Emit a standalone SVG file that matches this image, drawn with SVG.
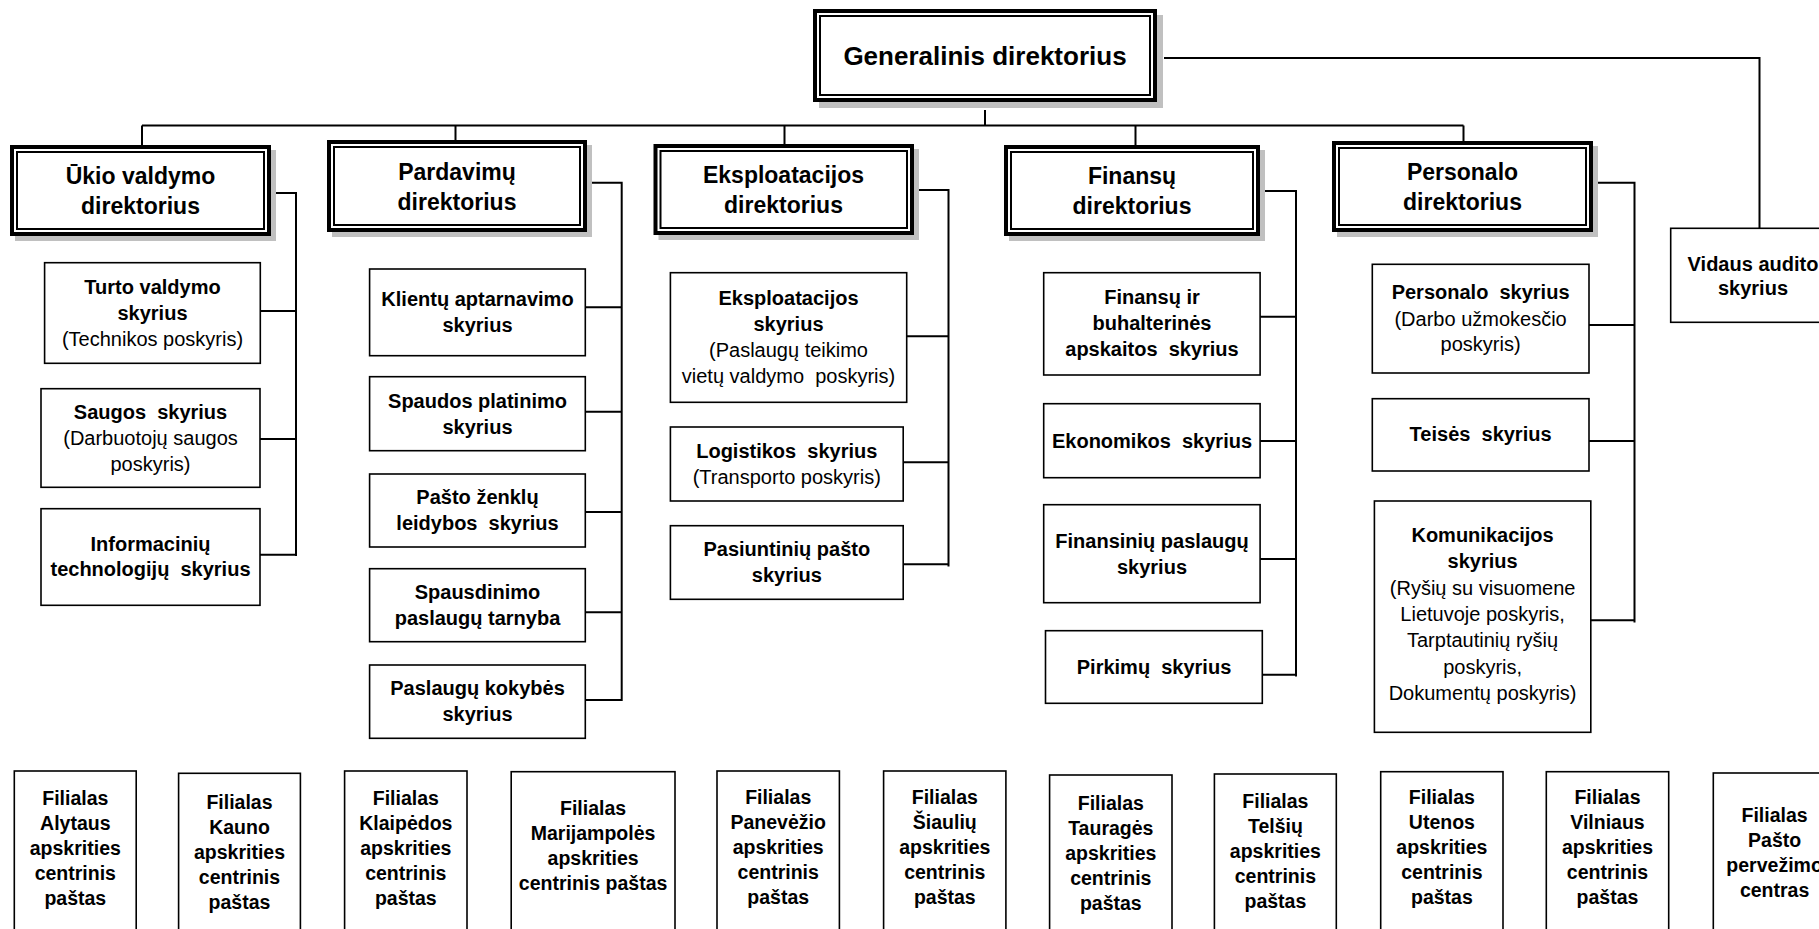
<svg xmlns="http://www.w3.org/2000/svg" width="1819" height="929" viewBox="0 0 1819 929">
<defs>
<style>
text{font-family:"Liberation Sans",Arial,sans-serif;fill:#000;text-anchor:middle}
.g{font-size:26px;font-weight:bold}
.d{font-size:23px;font-weight:bold}
.m{font-size:20px;font-weight:bold}
.r{font-size:20px;font-weight:normal}
.b{font-size:19.5px;font-weight:bold}
.sh{fill:#c0c0c0}
.o{fill:#fff;stroke:#000;stroke-width:4}
.i{fill:none;stroke:#000;stroke-width:2}
.bx{fill:#fff;stroke:#000;stroke-width:1.6}
.c{fill:none;stroke:#000;stroke-width:2}
</style>
</defs>
<rect width="1819" height="929" fill="#fff"/>

<g id="connectors">
<path class="c" d="M142,125.5 H1463.5"/>
<path class="c" d="M985,110 V126"/>
<path class="c" d="M142,125.5 V145 M455.5,125.5 V140 M784.5,125.5 V144 M1135.5,125.5 V145 M1463.5,125.5 V141"/>
<path class="c" d="M1164,58 H1759.5 V228.5"/>
<path class="c" d="M276,193 H296 V556 M260,311 H296 M260,439 H296 M260,554.7 H296"/>
<path class="c" d="M592,182.7 H621.7 V701 M585.3,307.3 H621.7 M585.3,411.7 H621.7 M585.3,512 H621.7 M585.3,612.3 H621.7 M585.3,700 H621.7"/>
<path class="c" d="M914,190 H948.5 V566.5 M906.7,336.3 H948.5 M903.2,462.3 H948.5 M903.2,564.3 H948.5"/>
<path class="c" d="M1262,191 H1296 V676.5 M1260.1,316.7 H1296 M1260.1,441 H1296 M1260.1,559 H1296 M1262.3,674.7 H1296"/>
<path class="c" d="M1595,182.7 H1634.5 V622.5 M1589,325 H1634.5 M1589,441 H1634.5 M1590.8,620.3 H1634.5"/>
</g>

<g id="generalinis">
<rect class="sh" x="819" y="15" width="344" height="93"/>
<rect class="o" x="815" y="11" width="340" height="89"/>
<rect class="i" x="820" y="16" width="330" height="79"/>
<text class="g" x="985" y="65">Generalinis direktorius</text>
</g>

<g id="ukio">
<rect class="sh" x="15" y="150" width="261" height="91"/>
<rect class="o" x="12" y="147" width="257" height="87"/>
<rect class="i" x="17" y="152" width="247" height="77"/>
<text class="d"><tspan x="140.5" y="183.5">Ūkio valdymo</tspan><tspan x="140.5" y="213.5">direktorius</tspan></text>
</g>

<g id="pardavimu">
<rect class="sh" x="332" y="145" width="260" height="92"/>
<rect class="o" x="329" y="142" width="256" height="88"/>
<rect class="i" x="334" y="147" width="246" height="78"/>
<text class="d"><tspan x="457" y="179.5">Pardavimų</tspan><tspan x="457" y="209.5">direktorius</tspan></text>
</g>

<g id="eksploatacijos">
<rect class="sh" x="658.5" y="149" width="260.5" height="91"/>
<rect class="o" x="655.5" y="146" width="256.5" height="87"/>
<rect class="i" x="660.5" y="151" width="246.5" height="77"/>
<text class="d"><tspan x="783.5" y="183">Eksploatacijos</tspan><tspan x="783.5" y="213">direktorius</tspan></text>
</g>

<g id="finansu">
<rect class="sh" x="1009" y="150" width="256" height="91"/>
<rect class="o" x="1006" y="147" width="252" height="87"/>
<rect class="i" x="1011" y="152" width="242" height="77"/>
<text class="d"><tspan x="1132" y="183.5">Finansų</tspan><tspan x="1132" y="213.5">direktorius</tspan></text>
</g>

<g id="personalo">
<rect class="sh" x="1337" y="146" width="261" height="91"/>
<rect class="o" x="1334" y="143" width="257" height="87"/>
<rect class="i" x="1339" y="148" width="247" height="77"/>
<text class="d"><tspan x="1462.5" y="179.5">Personalo</tspan><tspan x="1462.5" y="209.5">direktorius</tspan></text>
</g>

<g id="turto">
<rect class="bx" x="44.6" y="262.7" width="215.7" height="100.6"/>
<text><tspan class="m" x="152.5" y="293.5">Turto valdymo</tspan><tspan class="m" x="152.5" y="319.5">skyrius</tspan><tspan class="r" x="152.5" y="345.5">(Technikos poskyris)</tspan></text>
</g>
<g id="saugos">
<rect class="bx" x="41" y="388.7" width="219" height="98.6"/>
<text xml:space="preserve"><tspan class="m" x="150.5" y="419">Saugos  skyrius</tspan><tspan class="r" x="150.5" y="445">(Darbuotojų saugos</tspan><tspan class="r" x="150.5" y="471">poskyris)</tspan></text>
</g>
<g id="informaciniu">
<rect class="bx" x="41" y="508.7" width="219" height="96.6"/>
<text class="m" xml:space="preserve"><tspan x="150.5" y="550.5">Informacinių</tspan><tspan x="150.5" y="576">technologijų  skyrius</tspan></text>
</g>

<g id="klientu">
<rect class="bx" x="369.6" y="269" width="215.7" height="86.7"/>
<text class="m"><tspan x="477.5" y="306">Klientų aptarnavimo</tspan><tspan x="477.5" y="332">skyrius</tspan></text>
</g>
<g id="spaudos">
<rect class="bx" x="369.6" y="376.7" width="215.7" height="74"/>
<text class="m"><tspan x="477.5" y="407.5">Spaudos platinimo</tspan><tspan x="477.5" y="433.5">skyrius</tspan></text>
</g>
<g id="pasto-zenklu">
<rect class="bx" x="369.6" y="474" width="215.7" height="73"/>
<text class="m" xml:space="preserve"><tspan x="477.5" y="504">Pašto ženklų</tspan><tspan x="477.5" y="530">leidybos  skyrius</tspan></text>
</g>
<g id="spausdinimo">
<rect class="bx" x="369.6" y="568.7" width="215.7" height="73"/>
<text class="m"><tspan x="477.5" y="598.5">Spausdinimo</tspan><tspan x="477.5" y="624.5">paslaugų tarnyba</tspan></text>
</g>
<g id="kokybes">
<rect class="bx" x="369.6" y="665" width="215.7" height="73.3"/>
<text class="m"><tspan x="477.5" y="695">Paslaugų kokybės</tspan><tspan x="477.5" y="721">skyrius</tspan></text>
</g>

<g id="eksploatacijos-skyrius">
<rect class="bx" x="670.4" y="272.7" width="236.3" height="129.6"/>
<text xml:space="preserve"><tspan class="m" x="788.5" y="304.5">Eksploatacijos</tspan><tspan class="m" x="788.5" y="330.5">skyrius</tspan><tspan class="r" x="788.5" y="356.5">(Paslaugų teikimo</tspan><tspan class="r" x="788.5" y="382.5">vietų valdymo  poskyris)</tspan></text>
</g>
<g id="logistikos">
<rect class="bx" x="670.4" y="427" width="232.8" height="74"/>
<text xml:space="preserve"><tspan class="m" x="786.8" y="457.5">Logistikos  skyrius</tspan><tspan class="r" x="786.8" y="483.5">(Transporto poskyris)</tspan></text>
</g>
<g id="pasiuntiniu">
<rect class="bx" x="670.4" y="525.7" width="232.8" height="73.6"/>
<text class="m"><tspan x="786.8" y="556">Pasiuntinių pašto</tspan><tspan x="786.8" y="582">skyrius</tspan></text>
</g>

<g id="finansu-buhalterines">
<rect class="bx" x="1043.7" y="272.7" width="216.4" height="102.3"/>
<text class="m" xml:space="preserve"><tspan x="1152" y="304">Finansų ir</tspan><tspan x="1152" y="330">buhalterinės</tspan><tspan x="1152" y="356">apskaitos  skyrius</tspan></text>
</g>
<g id="ekonomikos">
<rect class="bx" x="1043.7" y="403.7" width="216.4" height="74"/>
<text class="m" x="1152" y="448" xml:space="preserve">Ekonomikos  skyrius</text>
</g>
<g id="finansiniu">
<rect class="bx" x="1043.7" y="504.7" width="216.4" height="98"/>
<text class="m"><tspan x="1152" y="547.5">Finansinių paslaugų</tspan><tspan x="1152" y="573.5">skyrius</tspan></text>
</g>
<g id="pirkimu">
<rect class="bx" x="1045.5" y="630.7" width="216.8" height="72.6"/>
<text class="m" x="1154" y="673.5" xml:space="preserve">Pirkimų  skyrius</text>
</g>

<g id="personalo-skyrius">
<rect class="bx" x="1372.3" y="264.3" width="216.7" height="108.7"/>
<text xml:space="preserve"><tspan class="m" x="1480.6" y="299">Personalo  skyrius</tspan><tspan class="r" x="1480.6" y="325.5">(Darbo užmokesčio</tspan><tspan class="r" x="1480.6" y="351">poskyris)</tspan></text>
</g>
<g id="teises">
<rect class="bx" x="1372.3" y="398.7" width="216.7" height="72.3"/>
<text class="m" x="1480.6" y="441" xml:space="preserve">Teisės  skyrius</text>
</g>
<g id="komunikacijos">
<rect class="bx" x="1374.4" y="501" width="216.4" height="231.3"/>
<text><tspan class="m" x="1482.6" y="542">Komunikacijos</tspan><tspan class="m" x="1482.6" y="568.3">skyrius</tspan><tspan class="r" x="1482.6" y="594.6">(Ryšių su visuomene</tspan><tspan class="r" x="1482.6" y="620.9">Lietuvoje poskyris,</tspan><tspan class="r" x="1482.6" y="647.2">Tarptautinių ryšių</tspan><tspan class="r" x="1482.6" y="673.5">poskyris,</tspan><tspan class="r" x="1482.6" y="699.8">Dokumentų poskyris)</tspan></text>
</g>

<g id="vidaus-audito">
<rect class="bx" x="1670.7" y="228.3" width="170" height="94"/>
<text class="m"><tspan x="1753" y="271">Vidaus audito</tspan><tspan x="1753" y="295">skyrius</tspan></text>
</g>

<g id="alytaus">
<rect class="bx" x="14.3" y="771" width="121.9" height="170"/>
<text class="b"><tspan x="75.3" y="805">Filialas</tspan><tspan x="75.3" y="830">Alytaus</tspan><tspan x="75.3" y="855">apskrities</tspan><tspan x="75.3" y="880">centrinis</tspan><tspan x="75.3" y="905">paštas</tspan></text>
</g>
<g id="kauno">
<rect class="bx" x="178.6" y="773.3" width="121.8" height="170"/>
<text class="b"><tspan x="239.5" y="809">Filialas</tspan><tspan x="239.5" y="834">Kauno</tspan><tspan x="239.5" y="859">apskrities</tspan><tspan x="239.5" y="884">centrinis</tspan><tspan x="239.5" y="909">paštas</tspan></text>
</g>
<g id="klaipedos">
<rect class="bx" x="344.6" y="771" width="122.4" height="170"/>
<text class="b"><tspan x="405.8" y="805">Filialas</tspan><tspan x="405.8" y="830">Klaipėdos</tspan><tspan x="405.8" y="855">apskrities</tspan><tspan x="405.8" y="880">centrinis</tspan><tspan x="405.8" y="905">paštas</tspan></text>
</g>
<g id="marijampoles">
<rect class="bx" x="511.2" y="771.7" width="163.8" height="170"/>
<text class="b"><tspan x="593.1" y="815">Filialas</tspan><tspan x="593.1" y="840">Marijampolės</tspan><tspan x="593.1" y="865">apskrities</tspan><tspan x="593.1" y="890">centrinis paštas</tspan></text>
</g>
<g id="panevezio">
<rect class="bx" x="717" y="771" width="122.4" height="170"/>
<text class="b"><tspan x="778.2" y="804">Filialas</tspan><tspan x="778.2" y="829">Panevėžio</tspan><tspan x="778.2" y="854">apskrities</tspan><tspan x="778.2" y="879">centrinis</tspan><tspan x="778.2" y="904">paštas</tspan></text>
</g>
<g id="siauliu">
<rect class="bx" x="883.6" y="771" width="122.3" height="170"/>
<text class="b"><tspan x="944.8" y="804">Filialas</tspan><tspan x="944.8" y="829">Šiaulių</tspan><tspan x="944.8" y="854">apskrities</tspan><tspan x="944.8" y="879">centrinis</tspan><tspan x="944.8" y="904">paštas</tspan></text>
</g>
<g id="taurages">
<rect class="bx" x="1049.6" y="775" width="122.4" height="170"/>
<text class="b"><tspan x="1110.8" y="810">Filialas</tspan><tspan x="1110.8" y="835">Tauragės</tspan><tspan x="1110.8" y="860">apskrities</tspan><tspan x="1110.8" y="885">centrinis</tspan><tspan x="1110.8" y="910">paštas</tspan></text>
</g>
<g id="telsiu">
<rect class="bx" x="1214.4" y="774" width="121.9" height="170"/>
<text class="b"><tspan x="1275.4" y="808">Filialas</tspan><tspan x="1275.4" y="833">Telšių</tspan><tspan x="1275.4" y="858">apskrities</tspan><tspan x="1275.4" y="883">centrinis</tspan><tspan x="1275.4" y="908">paštas</tspan></text>
</g>
<g id="utenos">
<rect class="bx" x="1380.7" y="771.7" width="122.3" height="170"/>
<text class="b"><tspan x="1441.9" y="804">Filialas</tspan><tspan x="1441.9" y="829">Utenos</tspan><tspan x="1441.9" y="854">apskrities</tspan><tspan x="1441.9" y="879">centrinis</tspan><tspan x="1441.9" y="904">paštas</tspan></text>
</g>
<g id="vilniaus">
<rect class="bx" x="1546.3" y="771.7" width="122.4" height="170"/>
<text class="b"><tspan x="1607.5" y="804">Filialas</tspan><tspan x="1607.5" y="829">Vilniaus</tspan><tspan x="1607.5" y="854">apskrities</tspan><tspan x="1607.5" y="879">centrinis</tspan><tspan x="1607.5" y="904">paštas</tspan></text>
</g>
<g id="pasto-pervezimo">
<rect class="bx" x="1713.3" y="773" width="122.7" height="170"/>
<text class="b"><tspan x="1774.6" y="821.5">Filialas</tspan><tspan x="1774.6" y="846.5">Pašto</tspan><tspan x="1774.6" y="871.5">pervežimo</tspan><tspan x="1774.6" y="896.5">centras</tspan></text>
</g>
</svg>
